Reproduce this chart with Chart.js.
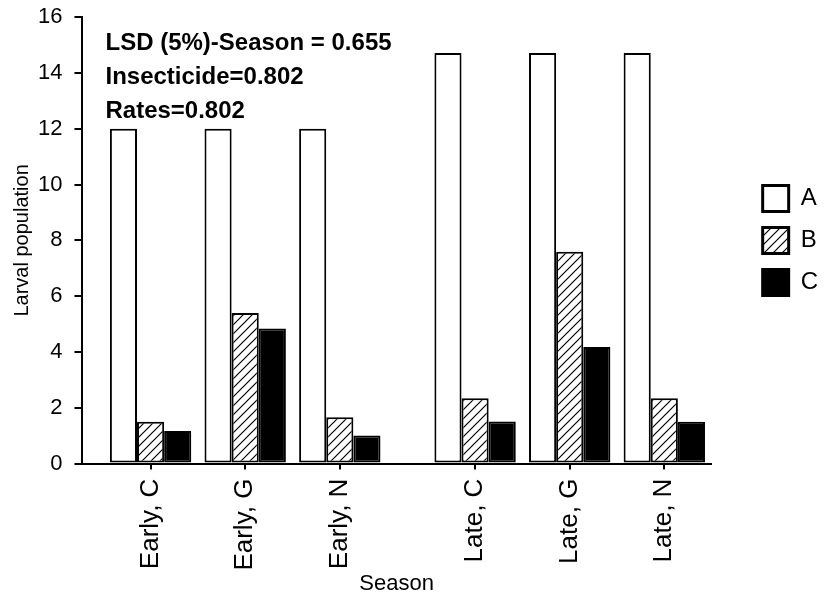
<!DOCTYPE html>
<html>
<head>
<meta charset="utf-8">
<script src="https://cdn.jsdelivr.net/npm/chart.js@4.4.0/dist/chart.umd.min.js"></script>
<style>
  html, body { margin: 0; padding: 0; background: #fff; }
  #wrap { width: 829px; height: 599px; position: relative; }
</style>
</head>
<body>
<div id="wrap"><canvas id="chart"></canvas></div>
<script>
// 数据
const categories = ['Early, C', 'Early, G', 'Early, N', 'Late, C', 'Late, G', 'Late, N'];
const positions = [1, 2, 3, 4.43, 5.43, 6.43];   // Late 组与 Early 组之间留空
const seriesA = [12, 12, 12, 14.72, 14.72, 14.72];
const seriesB = [1.5, 5.4, 1.66, 2.34, 7.59, 2.34];
const seriesC = [1.17, 4.84, 1.01, 1.51, 4.18, 1.5];
const yTicks = [0, 2, 4, 6, 8, 10, 12, 14, 16];
const notes = ['LSD (5%)-Season = 0.655', 'Insecticide=0.802', 'Rates=0.802'];

const FONT = 'Arial, "Liberation Sans", sans-serif';
Chart.defaults.font.family = FONT;
Chart.defaults.color = '#000';

// 斜线填充
function makeHatch() {
    const c = document.createElement('canvas');
    c.width = 9; c.height = 9;
    const g = c.getContext('2d');
    g.fillStyle = '#fff';
    g.fillRect(0, 0, 9, 9);
    g.strokeStyle = '#000';
    g.lineWidth = 1.2;
    g.beginPath();
    g.moveTo(-1, 10); g.lineTo(10, -1);
    g.moveTo(-5, 5); g.lineTo(5, -5);
    g.moveTo(4, 14); g.lineTo(14, 4);
    g.stroke();
    return g.createPattern(c, 'repeat');
}

function toPoints(arr) {
    return arr.map((v, i) => ({ x: positions[i], y: v }));
}

// 左上角注释文字
const notesPlugin = {
    id: 'notes',
    afterDatasetsDraw(chart) {
        const ctx = chart.ctx;
        const area = chart.chartArea;
        ctx.save();
        ctx.font = 'bold 24px ' + FONT;
        ctx.fillStyle = '#000';
        ctx.textBaseline = 'middle';
        notes.forEach((t, i) => ctx.fillText(t, area.left + 23, 43 + i * 34));
        ctx.restore();
    }
};

// 图例与绘图区之间留出更宽的空白
const legendShift = {
    id: 'legendShift',
    afterLayout(chart) {
        const lg = chart.legend;
        if (!lg) return;
        lg.left += 36;
        lg.right += 36;
    }
};

const hatch = makeHatch();
const common = { borderColor: '#000', borderWidth: 2, borderSkipped: false };

new Chart(document.getElementById('chart'), {
    type: 'bar',
    data: {
        datasets: [
            Object.assign({ label: 'A', data: toPoints(seriesA), backgroundColor: '#fff' }, common),
            Object.assign({ label: 'B', data: toPoints(seriesB), backgroundColor: hatch }, common),
            Object.assign({ label: 'C', data: toPoints(seriesC), backgroundColor: '#000' }, common)
        ]
    },
    options: {
        responsive: true,
        maintainAspectRatio: false,
        animation: false,
        categoryPercentage: 0.86,
        barPercentage: 1,
        layout: { padding: { top: 4, right: 37, left: 6, bottom: 0 } },
        plugins: {
            legend: {
                position: 'right',
                fullSize: false,
                labels: {
                    boxWidth: 26,
                    boxHeight: 26,
                    padding: 16,
                    font: { size: 24 },
                    color: '#000',
                    generateLabels(chart) {
                        const items = Chart.defaults.plugins.legend.labels.generateLabels(chart);
                        items.forEach(it => { it.lineWidth = 3; });
                        return items;
                    }
                }
            },
            tooltip: { enabled: false }
        },
        scales: {
            x: {
                type: 'linear',
                min: 0.28,
                max: 6.92,
                offset: false,
                afterBuildTicks(scale) {
                    scale.ticks = positions.map(v => ({ value: v }));
                },
                afterFit(scale) {
                    scale.height -= scale.options.ticks.padding;
                },
                ticks: {
                    autoSkip: false,
                    minRotation: 90,
                    maxRotation: 90,
                    font: { size: 26 },
                    padding: 9,
                    callback: function(value) {
                        const i = positions.indexOf(value);
                        return i >= 0 ? categories[i] : '';
                    }
                },
                grid: { offset: false, drawOnChartArea: false, color: '#000', lineWidth: 2, tickLength: 6 },
                border: { color: '#000', width: 2 },
                title: { display: true, text: 'Season', font: { size: 22 }, padding: { top: 0, bottom: 2 } }
            },
            y: {
                min: 0,
                max: 16,
                afterFit(scale) {
                    const p = scale.options.ticks.padding;
                    scale.width -= p;
                    scale.paddingTop -= 8;
                },
                ticks: {
                    stepSize: 1,
                    font: { size: 22 },
                    padding: 12,
                    callback: function(value) {
                        return yTicks.includes(value) ? value : '';
                    }
                },
                grid: { drawOnChartArea: false, color: '#000', lineWidth: 2, tickLength: 8 },
                border: { color: '#000', width: 2 },
                title: { display: true, text: 'Larval population', font: { size: 20 }, padding: 4 }
            }
        }
    },
    plugins: [notesPlugin, legendShift]
});
</script>
</body>
</html>
